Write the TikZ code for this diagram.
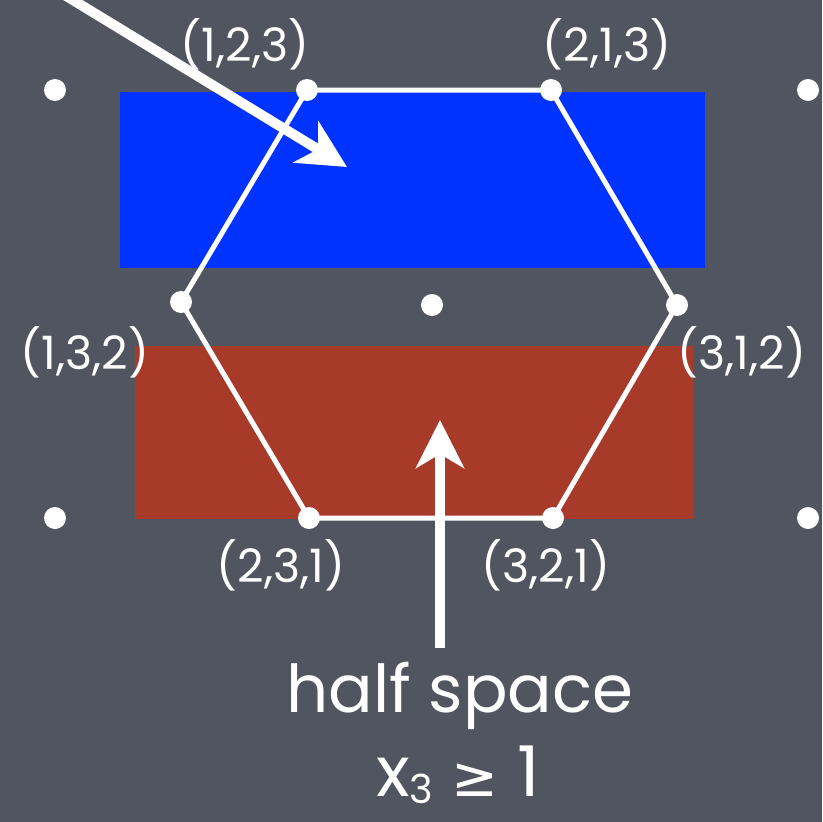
\documentclass[tikz,border=0pt]{standalone}
\usepackage{fontspec}
\setmainfont{Poppins}
\newfontfamily\symfont{DejaVu Sans}
\usetikzlibrary{arrows.meta,positioning}
\definecolor{board}{HTML}{50555F}
\definecolor{bluebox}{HTML}{0033FF}
\definecolor{redbox}{HTML}{A83A2A}
\tikzset{
  pt/.style={circle,fill=white,inner sep=0pt,minimum size=22pt},
  lbl/.style={text=white,font=\fontsize{46}{50}\selectfont,inner sep=0pt},
  bigarrow/.style={white,line width=10pt,-{Stealth[length=48pt,width=48pt,inset=14pt]}}
}
\begin{document}
\begin{tikzpicture}
[x=1pt,y=-1pt]
\fill[board] (0,0) rectangle (822,822);
\clip (0,0) rectangle (822,822);
\fill[bluebox] (120,92) rectangle (705,268);
\fill[redbox] (135,346) rectangle (693,519);
% vertices of the hexagon
\node[pt] (v123) at (307,90) {};
\node[pt] (v213) at (551,90) {};
\node[pt] (v312) at (677,305) {};
\node[pt] (v321) at (553,518) {};
\node[pt] (v231) at (309,518) {};
\node[pt] (v132) at (181,302) {};
\draw[white,line width=5pt,line join=round] (v123.center) -- (v213.center) -- (v312.center)
  -- (v321.center) -- (v231.center) -- (v132.center) -- cycle;
% other lattice points
\node[pt] (cen) at (432,305) {};
\node[pt] (ctl) at (55,90) {};
\node[pt] (ctr) at (808,90) {};
\node[pt] (cbl) at (55,518) {};
\node[pt] (cbr) at (808,518) {};
% labels
\node[lbl] (l123) at (245,44) {(1,2,3)};
\node[lbl] (l213) at (607,44) {(2,1,3)};
\node[lbl] (l132) at (85,352) {(1,3,2)};
\node[lbl] (l312) at (742,352) {(3,1,2)};
\node[lbl] (l231) at (281,565) {(2,3,1)};
\node[lbl] (l321) at (546,565) {(3,2,1)};
\node[text=white,font=\fontsize{66}{70}\selectfont,inner sep=0pt] (half) at (460,696) {half space};
\node[text=white,font=\fontsize{70}{74}\selectfont,inner sep=0pt,anchor=base] (ineq) at (458,796)
  {x\raisebox{-7pt}{\fontsize{40}{44}\selectfont 3} {\symfont\fontsize{56}{60}\selectfont ≥} 1};
% arrows
\coordinate (src) at (40,-20);
\coordinate (tip) at (347,167);
\draw[bigarrow] (src) -- (tip);
\coordinate (htip) at (440,420);
\draw[bigarrow] (half.north -| htip) ++(0,-14) coordinate (hbase) (hbase) -- (htip);
\end{tikzpicture}
\end{document}
